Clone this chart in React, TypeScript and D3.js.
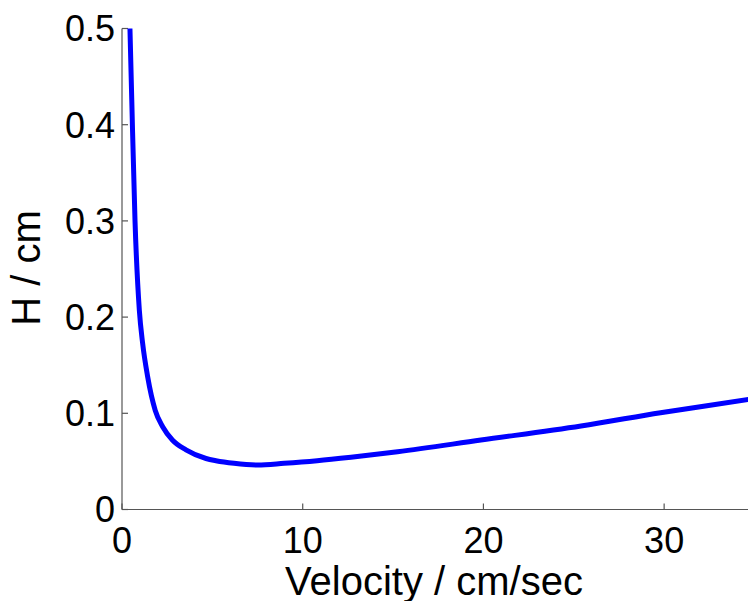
import React from "react";
import * as d3 from "d3";

const velocity = [0.44, 0.54, 0.72, 0.96, 1.14, 1.42, 1.84, 2.25, 2.8, 3.54, 4.65, 5.2, 6.2, 7.5, 8.97, 10.8, 12.67, 15.25, 19.86, 25.4, 29.8, 34.7, 35];
const plateHeight = [0.5, 0.426, 0.3, 0.207, 0.173, 0.138, 0.103, 0.086, 0.072, 0.062, 0.053, 0.0507, 0.048, 0.0463, 0.048, 0.0507, 0.0543, 0.06, 0.0722, 0.0868, 0.1006, 0.1146, 0.1155];
const xTicks = [0, 10, 20, 30];
const yTicks = [0, 0.1, 0.2, 0.3, 0.4, 0.5];
const xLabel = "Velocity / cm/sec";
const yLabel = "H / cm";

const W = 748;
const H = 601;
const FONT = "Arial, 'Liberation Sans', Helvetica, sans-serif";

export default function App() {
  const x = d3.scaleLinear().domain([0, 35]).range([122, 754.5]);
  const y = d3.scaleLinear().domain([0, 0.5]).range([509.5, 28.5]);
  const pts = velocity.map((v, i) => [v, plateHeight[i]] as [number, number]);
  const line = d3
    .line<[number, number]>()
    .x((d) => x(d[0]))
    .y((d) => y(d[1]))
    .curve(d3.curveMonotoneX);
  const axisColor = "#555";
  return (
    <svg
      width={W}
      height={H}
      style={{ position: "absolute", left: 0, top: 0, background: "#fff" }}
    >
      <rect x={0} y={0} width={W} height={H} fill="#fff" />
      {/* axes */}
      <line x1={x(0)} x2={x(0)} y1={y(0.5)} y2={y(0)} stroke={axisColor} strokeWidth={1.2} />
      <line x1={x(0)} x2={x(35)} y1={y(0)} y2={y(0)} stroke={axisColor} strokeWidth={1.2} />
      {yTicks.map((t) => (
        <g key={"y" + t}>
          <line x1={x(0)} x2={x(0) + 6} y1={y(t)} y2={y(t)} stroke={axisColor} strokeWidth={1.2} />
          <text
            x={115}
            y={y(t) + 12.9}
            textAnchor="end"
            fontFamily={FONT}
            fontSize={36}
            fill="#000"
          >
            {t === 0 ? "0" : String(t)}
          </text>
        </g>
      ))}
      {xTicks.map((t) => (
        <g key={"x" + t}>
          <line x1={x(t)} x2={x(t)} y1={y(0)} y2={y(0) - 6} stroke={axisColor} strokeWidth={1.2} />
          <text
            x={x(t)}
            y={553}
            textAnchor="middle"
            fontFamily={FONT}
            fontSize={36}
            fill="#000"
          >
            {String(t)}
          </text>
        </g>
      ))}
      <path d={line(pts) || ""} fill="none" stroke="#0000ff" strokeWidth={5} strokeLinejoin="round" />
      <text
        x={434}
        y={595}
        textAnchor="middle"
        fontFamily={FONT}
        fontSize={40}
        fill="#000"
      >
        {xLabel}
      </text>
      <text
        transform="translate(40,268) rotate(-90)"
        textAnchor="middle"
        fontFamily={FONT}
        fontSize={40}
        fill="#000"
      >
        {yLabel}
      </text>
    </svg>
  );
}
